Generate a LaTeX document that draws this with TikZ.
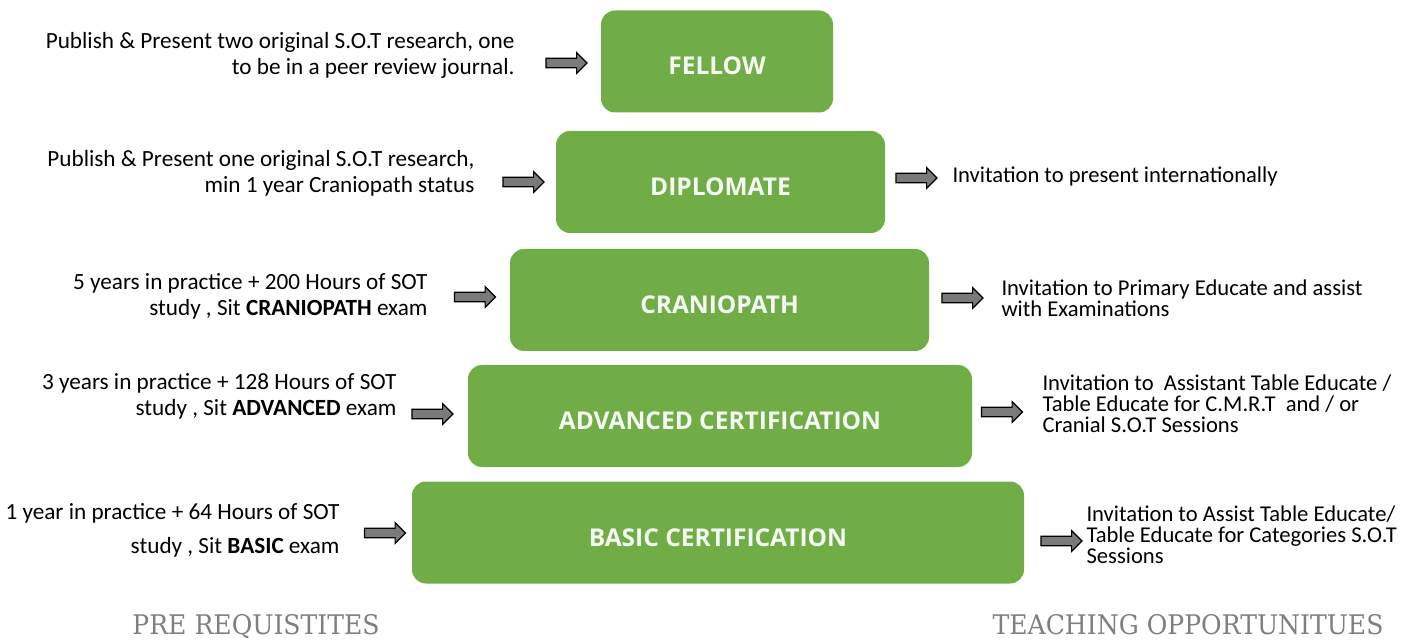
\documentclass[tikz,border=0pt]{standalone}
\usepackage{fontspec}
\setmainfont{Carlito}
\newfontfamily\boxfont{Open Sans}
\newfontfamily\slabfont[FakeStretch=0.93]{DejaVu Serif}
\usepackage{xcolor}
\usetikzlibrary{shapes.arrows, positioning}

\definecolor{tiergreen}{HTML}{70AD47}
\definecolor{headgray}{HTML}{7F7F7F}
\definecolor{arrowgray}{HTML}{7A7A7A}

\begin{document}
\begin{tikzpicture}[
    x=1pt, y=-1pt,
    tier/.style={rectangle, rounded corners=14pt, fill=tiergreen, text=white!94!tiergreen,
        font=\boxfont\bfseries\fontsize{24.5}{26}\selectfont, minimum height=102pt,
        text height=27pt, text depth=0pt},
    blockarrow/.style={single arrow, draw=black, fill=arrowgray, line width=1.2pt,
        minimum height=41pt, inner xsep=0pt, inner ysep=4.2pt,
        text height=0pt, text depth=0pt, single arrow head extend=5.5pt},
    pre/.style={align=right, anchor=east, font=\fontsize{23.2}{26}\selectfont},
    teach/.style={align=left, anchor=west, font=\fontsize{22.6}{21}\selectfont},
    heading/.style={text=headgray, font=\slabfont\fontsize{27}{30}\selectfont}
]
\useasboundingbox (0,0) rectangle (1425,644);

% pyramid of levels
\node (fellow)   [tier, minimum width=232pt] at (717,61.5) {FELLOW};
\node (diplomate)[tier, minimum width=329pt] at (720.5,182) {DIPLOMATE};
\node (cranio)   [tier, minimum width=419pt] at (719.5,300) {CRANIOPATH};
\node (advanced) [tier, minimum width=504pt] at (720,416) {ADVANCED CERTIFICATION};
\node (basic)    [tier, minimum width=612pt] at (718,532.5) {BASIC CERTIFICATION};

% arrows into the levels
\node (inF) [blockarrow] at (564,63) {};
\node (inD) [blockarrow] at (521,182) {};
\node (inC) [blockarrow] at (472.5,297) {};
\node (inA) [blockarrow] at (430,414) {};
\node (inB) [blockarrow] at (382.5,533) {};

% arrows out of the levels
\node (outD) [blockarrow] at (914,178) {};
\node (outC) [blockarrow] at (960,298) {};
\node (outA) [blockarrow] at (999.5,412) {};
\node (outB) [blockarrow] at (1059,541) {};

% pre requisites
\node (reqF) [pre] at (518,55) {Publish \& Present two original S.O.T research, one\\ to be in a peer review journal.};
\node (reqD) [pre] at (478,173) {Publish \& Present one original S.O.T research,\\ min 1 year Craniopath status};
\node (reqC) [pre] at (431,296) {5 years in practice + 200 Hours of SOT\\ study , Sit \textbf{CRANIOPATH} exam};
\node (reqA) [pre] at (400,396) {3 years in practice + 128 Hours of SOT\\ study , Sit \textbf{ADVANCED} exam};
\node (reqB) [pre, font=\fontsize{23.2}{34}\selectfont] at (343,530) {1 year in practice + 64 Hours of SOT\\ study , Sit \textbf{BASIC} exam};

% teaching opportunities
\node (teachD) [teach] at (949,176) {Invitation to present internationally};
\node (teachC) [teach] at (998,298) {Invitation to Primary Educate and assist\\ with Examinations};
\node (teachA) [teach] at (1039,404) {Invitation to\ \ Assistant Table Educate /\\ Table Educate for C.M.R.T\ \ and / or\\ Cranial S.O.T Sessions};
\node (teachB) [teach] at (1083,535) {Invitation to Assist Table Educate/\\ Table Educate for Categories S.O.T\\ Sessions};

\node (preHead)   [heading] at (256,627) {PRE REQUISTITES};
\node (teachHead) [heading] at (1188,625) {TEACHING OPPORTUNITUES};
\end{tikzpicture}
\end{document}
